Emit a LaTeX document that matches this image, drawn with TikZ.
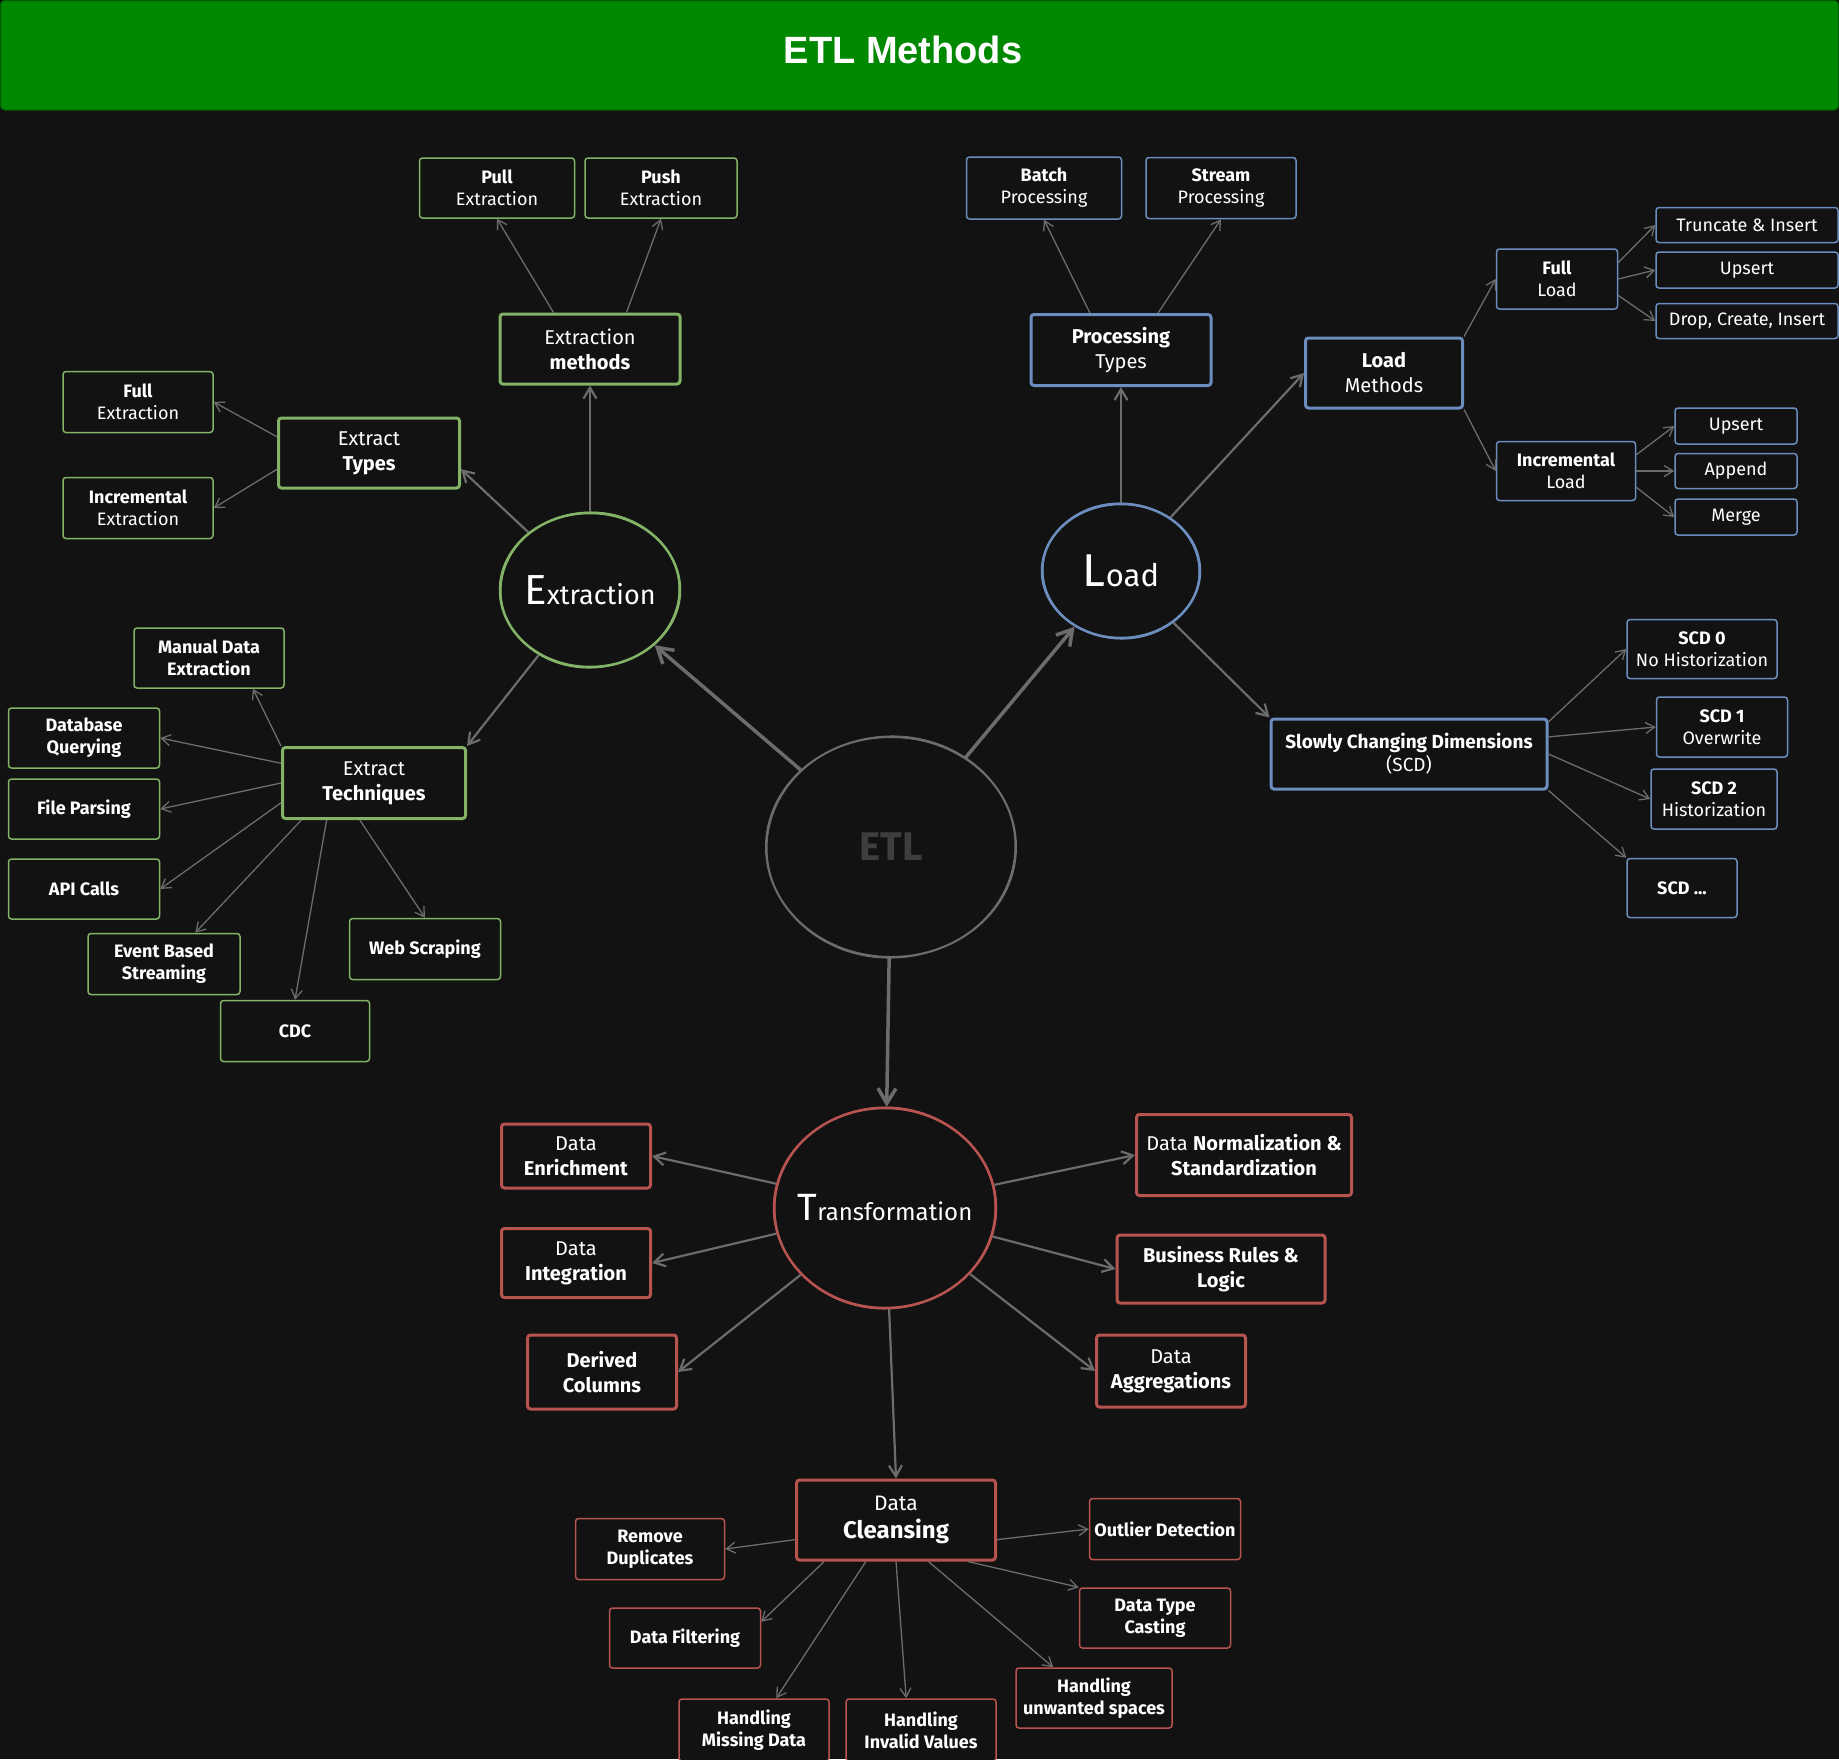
\documentclass[tikz,border=0pt]{standalone}
\usepackage{fontspec}
\setmainfont{Fira Sans}
\newfontfamily\titlefont{Liberation Sans}
\usetikzlibrary{shapes.geometric,arrows.meta}
\definecolor{bgc}{RGB}{18,18,18}
\definecolor{gr}{RGB}{130,179,102}
\definecolor{bl}{RGB}{108,142,191}
\definecolor{rd}{RGB}{184,84,80}
\definecolor{arr}{RGB}{108,108,108}
\definecolor{titlegreen}{RGB}{0,136,0}
\definecolor{titleedge}{RGB}{0,90,0}
\definecolor{etlc}{RGB}{62,62,62}
\tikzset{
  box/.style={draw, rectangle, rounded corners=3pt, fill=bgc, text=white, align=center, inner sep=0pt},
  leaf/.style={box, line width=1.5pt, font=\fontsize{18}{22}\selectfont},
  bleaf/.style={leaf, font=\fontsize{18}{22}\selectfont\bfseries},
  mid/.style={box, line width=3pt, font=\fontsize{20}{25}\selectfont},
  bmid/.style={mid, font=\fontsize{20}{25}\selectfont\bfseries},
  circ/.style={draw, ellipse, inner sep=0pt, fill=bgc, line width=2.5pt},
  circtext/.style={text=white},
  conn/.style={draw=arr, line width=1.3pt, -{Straight Barb[length=9pt,width=11pt]}},
  conn2/.style={draw=arr, line width=2.2pt, -{Straight Barb[length=11pt,width=13pt]}},
  conn3/.style={draw=arr, line width=3.5pt, -{Straight Barb[length=15pt,width=18pt]}},
}
\begin{document}
\begin{tikzpicture}[x=1pt,y=-1pt]
\useasboundingbox (0,0) rectangle (1839,1759);
\fill[bgc] (0,0) rectangle (1839,1759);
% title bar
\draw[fill=titlegreen, draw=titleedge, line width=1pt, rounded corners=4pt] (0.5,0.5) rectangle (1838.5,110);
\node[text=white, font=\titlefont\fontsize{38}{40}\selectfont\bfseries] (title) at (903,50) {ETL Methods};

% circles
\node[circ, draw=arr, line width=2pt, minimum width=250pt, minimum height=220pt,
      label={[text=etlc, font=\fontsize{40}{40}\selectfont\bfseries]center:ETL}] (etl) at (891,847) {};
\draw[arr, line width=1pt] (etl.center) ellipse[x radius=124, y radius=111, rotate=3];

\node[circ, draw=gr, minimum width=180pt, minimum height=154pt,
      label={[circtext]center:{{\fontsize{42}{42}\selectfont E}{\fontsize{27}{27}\selectfont xtraction}}}] (ex) at (590,590) {};
\draw[gr, line width=1pt] (ex.center) ellipse[x radius=89, y radius=78, rotate=3];

\node[circ, draw=bl, minimum width=158pt, minimum height=134pt,
      label={[circtext]center:{{\fontsize{46}{46}\selectfont L}{\fontsize{31}{31}\selectfont oad}}}] (load) at (1121,571) {};
\draw[bl, line width=1pt] (load.center) ellipse[x radius=78, y radius=68, rotate=-3];

\node[circ, draw=rd, minimum width=222pt, minimum height=200pt,
      label={[circtext]center:{{\fontsize{38}{38}\selectfont T}{\fontsize{24}{24}\selectfont ransformation}}}] (tr) at (885,1208) {};
\draw[rd, line width=1pt] (tr.center) ellipse[x radius=110, y radius=101, rotate=2];

% ---------- Extraction (green)
\node[leaf, draw=gr, minimum width=155pt, minimum height=60pt] (pull) at (497,188) {\textbf{Pull}\\Extraction};
\node[leaf, draw=gr, minimum width=152pt, minimum height=60pt] (push) at (661,188) {\textbf{Push}\\Extraction};
\node[mid, draw=gr, minimum width=180pt, minimum height=70pt] (methods) at (590,349) {Extraction\\\textbf{methods}};
\node[mid, draw=gr, minimum width=181pt, minimum height=70pt] (types) at (369,453) {Extract\\\textbf{Types}};
\node[leaf, draw=gr, minimum width=150pt, minimum height=61pt] (fullx) at (138,402) {\textbf{Full}\\Extraction};
\node[leaf, draw=gr, minimum width=150pt, minimum height=61pt] (incx) at (138,508) {\textbf{Incremental}\\Extraction};
\node[mid, draw=gr, minimum width=183pt, minimum height=71pt] (tech) at (374,783) {Extract\\\textbf{Techniques}};
\node[bleaf, draw=gr, minimum width=150pt, minimum height=60pt] (manual) at (209,658) {Manual Data\\Extraction};
\node[bleaf, draw=gr, minimum width=151pt, minimum height=60pt] (db) at (84,738) {Database\\Querying};
\node[bleaf, draw=gr, minimum width=151pt, minimum height=60pt] (file) at (84,809) {File Parsing};
\node[bleaf, draw=gr, minimum width=151pt, minimum height=60pt] (api) at (84,889) {API Calls};
\node[bleaf, draw=gr, minimum width=152pt, minimum height=61pt] (event) at (164,964) {Event Based\\Streaming};
\node[bleaf, draw=gr, minimum width=149pt, minimum height=61pt] (cdc) at (295,1031) {CDC};
\node[bleaf, draw=gr, minimum width=151pt, minimum height=61pt] (web) at (425,949) {Web Scraping};

% ---------- Load (blue)
\node[leaf, draw=bl, minimum width=155pt, minimum height=62pt] (batch) at (1044,188) {\textbf{Batch}\\Processing};
\node[leaf, draw=bl, minimum width=150pt, minimum height=61pt] (stream) at (1221,188) {\textbf{Stream}\\Processing};
\node[mid, draw=bl, minimum width=180pt, minimum height=71pt] (pt) at (1121,350) {\textbf{Processing}\\Types};
\node[mid, draw=bl, minimum width=157pt, minimum height=70pt] (lm) at (1384,373) {\textbf{Load}\\Methods};
\node[leaf, draw=bl, minimum width=121pt, minimum height=60pt] (fl) at (1557,279) {\textbf{Full}\\Load};
\node[leaf, draw=bl, minimum width=182pt, minimum height=35pt] (trunc) at (1747,225) {Truncate \& Insert};
\node[leaf, draw=bl, minimum width=182pt, minimum height=36pt] (up1) at (1747,270) {Upsert};
\node[leaf, draw=bl, minimum width=182pt, minimum height=35pt] (drop) at (1747,321) {Drop, Create, Insert};
\node[leaf, draw=bl, minimum width=139pt, minimum height=59pt] (il) at (1566,471) {\textbf{Incremental}\\Load};
\node[leaf, draw=bl, minimum width=122pt, minimum height=36pt] (up2) at (1736,426) {Upsert};
\node[leaf, draw=bl, minimum width=122pt, minimum height=35pt] (app) at (1736,471) {Append};
\node[leaf, draw=bl, minimum width=122pt, minimum height=36pt] (merge) at (1736,517) {Merge};
\node[mid, draw=bl, minimum width=276pt, minimum height=70pt, font=\fontsize{19}{23}\selectfont] (scd) at (1409,754) {\textbf{Slowly Changing Dimensions}\\(SCD)};
\node[leaf, draw=bl, minimum width=150pt, minimum height=59pt] (s0) at (1702,649) {\textbf{SCD 0}\\No Historization};
\node[leaf, draw=bl, minimum width=131pt, minimum height=60pt] (s1) at (1722,727) {\textbf{SCD 1}\\Overwrite};
\node[leaf, draw=bl, minimum width=126pt, minimum height=60pt] (s2) at (1714,799) {\textbf{SCD 2}\\Historization};
\node[bleaf, draw=bl, minimum width=110pt, minimum height=59pt] (sx) at (1682,888) {SCD ...};

% ---------- Transformation (red)
\node[mid, draw=rd, minimum width=149pt, minimum height=64pt] (enr) at (576,1156) {Data\\\textbf{Enrichment}};
\node[mid, draw=rd, minimum width=149pt, minimum height=69pt] (int) at (576,1263) {Data\\\textbf{Integration}};
\node[bmid, draw=rd, minimum width=149pt, minimum height=74pt] (der) at (602,1372) {Derived\\Columns};
\node[mid, draw=rd, minimum width=215pt, minimum height=81pt] (norm) at (1244,1155) {Data \textbf{Normalization \&}\\\textbf{Standardization}};
\node[bmid, draw=rd, minimum width=208pt, minimum height=68pt] (bus) at (1221,1269) {Business Rules \&\\Logic};
\node[mid, draw=rd, minimum width=149pt, minimum height=72pt] (agg) at (1171,1371) {Data\\\textbf{Aggregations}};
\node[mid, draw=rd, minimum width=199pt, minimum height=80pt, font=\fontsize{21}{28}\selectfont] (dc) at (896,1520) {Data\\{\fontsize{24}{28}\selectfont\textbf{Cleansing}}};
\node[bleaf, draw=rd, minimum width=149pt, minimum height=61pt] (rd) at (650,1549) {Remove\\Duplicates};
\node[bleaf, draw=rd, minimum width=151pt, minimum height=61pt] (out) at (1165,1529) {Outlier Detection};
\node[bleaf, draw=rd, minimum width=151pt, minimum height=60pt] (tc) at (1155,1618) {Data Type\\Casting};
\node[bleaf, draw=rd, minimum width=151pt, minimum height=60pt] (flt) at (685,1638) {Data Filtering};
\node[bleaf, draw=rd, minimum width=150pt, minimum height=62pt] (miss) at (754,1730) {Handling\\Missing Data};
\node[bleaf, draw=rd, minimum width=150pt, minimum height=62pt] (inv) at (921,1730) {Handling\\Invalid Values};
\node[bleaf, draw=rd, minimum width=156pt, minimum height=60pt] (unw) at (1094,1698) {Handling\\unwanted spaces};

% ---------- connectors
\draw[conn3] (etl) -- (ex);
\draw[conn3] (etl) -- (load);
\draw[conn3] (etl) -- (tr);

\draw[conn2] (ex) -- (methods.south);
\draw[conn] (methods.135) -- (pull.south);
\draw[conn] (methods.45) -- (push.south);
\draw[conn2] (ex) -- (types.-10);
\draw[conn] (types.170) -- (fullx.east);
\draw[conn] (types.190) -- (incx.east);
\draw[conn2] (ex) -- (tech.north east);
\draw[conn] (tech.north west) -- (manual.-35);
\draw[conn] (tech.168) -- (db.east);
\draw[conn] (tech.west) -- (file.east);
\draw[conn] (tech.192) -- (api.east);
\draw[conn] (tech.207) -- (event.45);
\draw[conn] (tech.218) -- (cdc.north);
\draw[conn] (tech.249) -- (web.north);

\draw[conn2] (load) -- (pt.south);
\draw[conn] (pt.130) -- (batch.south);
\draw[conn] (pt.45) -- (stream.south);
\draw[conn2] (load) -- (lm.west);
\draw[conn] (lm.north east) -- (fl.west);
\draw[conn] (lm.south east) -- (il.west);
\draw[conn] (fl.15) -- (trunc.west);
\draw[conn] (fl.east) -- (up1.west);
\draw[conn] (fl.-15) -- (drop.west);
\draw[conn] (il.13) -- (up2.west);
\draw[conn] (il.east) -- (app.west);
\draw[conn] (il.-13) -- (merge.west);
\draw[conn2] (load) -- (scd.north west);
\draw[conn] (scd.13) -- (s0.west);
\draw[conn] (scd.7) -- (s1.west);
\draw[conn] (scd.east) -- (s2.west);
\draw[conn] (scd.south east) -- (sx.north west);

\draw[conn2] (tr) -- (enr.east);
\draw[conn2] (tr) -- (int.east);
\draw[conn2] (tr) -- (der.east);
\draw[conn2] (tr) -- (norm.west);
\draw[conn2] (tr) -- (bus.west);
\draw[conn2] (tr) -- (agg.west);
\draw[conn2] (tr) -- (dc.north);
\draw[conn] (dc.191) -- (rd.east);
\draw[conn] (dc.-11) -- (out.west);
\draw[conn] (dc.-30) -- (tc.north west);
\draw[conn] (dc.210) -- (flt.12);
\draw[conn] (dc.234) -- (miss.55);
\draw[conn] (dc.south) -- (inv.115);
\draw[conn] (dc.-52) -- (unw.143);
\end{tikzpicture}
\end{document}
